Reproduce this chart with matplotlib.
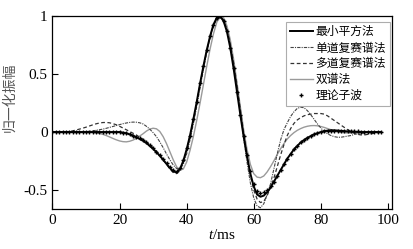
import numpy as np
import matplotlib.pyplot as plt

plt.rcParams['font.family'] = ['Liberation Serif', 'Noto Sans CJK SC']
plt.rcParams['mathtext.fontset'] = 'custom'
plt.rcParams['mathtext.it'] = 'Liberation Serif:italic'
plt.rcParams['mathtext.rm'] = 'Liberation Serif'

# 时间轴 (ms)
t = np.arange(0, 99)

# 理论子波
theory = [0.0] * 21 + [
    -0.005, -0.01, -0.02, -0.03, -0.04, -0.055, -0.07, -0.09, -0.115, -0.14,
    -0.17, -0.2, -0.235, -0.27, -0.305, -0.33, -0.34, -0.31, -0.24, -0.14,
    -0.03, 0.11, 0.26, 0.42, 0.57, 0.71, 0.83, 0.93, 0.99, 1.0,
    0.96, 0.87, 0.73, 0.55, 0.35, 0.15, -0.03, -0.2, -0.34, -0.45,
    -0.51, -0.53, -0.52, -0.5, -0.47, -0.43, -0.38, -0.33, -0.28, -0.23,
    -0.19, -0.15, -0.12, -0.09, -0.07, -0.05, -0.035, -0.02, -0.01, 0.0,
    0.005, 0.01, 0.012, 0.012, 0.01, 0.01, 0.008, 0.006, 0.005, 0.005,
    0.005, 0.004, 0.003, 0.003, 0.002, 0.002, 0.001, 0.0]

# 最小平方法
lsq = [0.0] * 21 + [
    -0.005, -0.01, -0.02, -0.03, -0.045, -0.06, -0.075, -0.095, -0.12, -0.145,
    -0.175, -0.205, -0.24, -0.275, -0.31, -0.34, -0.35, -0.32, -0.25, -0.15,
    -0.03, 0.11, 0.26, 0.42, 0.57, 0.71, 0.83, 0.93, 0.99, 1.0,
    0.96, 0.87, 0.73, 0.55, 0.35, 0.15, -0.04, -0.21, -0.36, -0.47,
    -0.54, -0.56, -0.55, -0.52, -0.48, -0.43, -0.38, -0.33, -0.28, -0.23,
    -0.19, -0.15, -0.12, -0.09, -0.07, -0.05, -0.035, -0.02, -0.01, 0.0,
    0.008, 0.012, 0.015, 0.015, 0.013, 0.01, 0.008, 0.005, 0.003, 0.002,
    0.001, 0.0, 0.0, 0.0, 0.0, 0.0, 0.0, 0.0]

# 单道复赛谱法
single = [0.0] * 10 + [
    0.003, 0.006, 0.01, 0.015, 0.02, 0.025, 0.032, 0.04, 0.048, 0.056,
    0.064, 0.072, 0.078, 0.083, 0.086, 0.085, 0.08, 0.07, 0.05, 0.025,
    -0.005, -0.04, -0.085, -0.135, -0.19, -0.24, -0.285, -0.315, -0.32, -0.28,
    -0.19, -0.07, 0.07, 0.22, 0.38, 0.54, 0.69, 0.82, 0.92, 0.98,
    1.0, 0.97, 0.89, 0.76, 0.59, 0.39, 0.17, -0.05, -0.26, -0.44,
    -0.57, -0.64, -0.655, -0.62, -0.54, -0.45, -0.32, -0.19, -0.07, 0.02,
    0.08, 0.135, 0.175, 0.205, 0.215, 0.21, 0.185, 0.15, 0.11, 0.07,
    0.035, 0.005, -0.015, -0.03, -0.04, -0.045, -0.045, -0.04, -0.035, -0.03,
    -0.02, -0.015, -0.01, -0.008, -0.005, -0.003, 0.0, 0.0, 0.0]

# 多道复赛谱法
multi = [0.0] * 5 + [
    0.005, 0.01, 0.017, 0.025, 0.033, 0.042, 0.052, 0.062, 0.071, 0.078,
    0.082, 0.083, 0.08, 0.073, 0.063, 0.05, 0.035, 0.02, 0.005, -0.01,
    -0.025, -0.045, -0.065, -0.085, -0.11, -0.135, -0.165, -0.2, -0.24, -0.28,
    -0.32, -0.35, -0.36, -0.33, -0.26, -0.16, -0.04, 0.1, 0.25, 0.41,
    0.56, 0.7, 0.82, 0.92, 0.98, 1.0, 0.97, 0.89, 0.76, 0.6,
    0.41, 0.2, -0.01, -0.2, -0.37, -0.5, -0.58, -0.61, -0.6, -0.55,
    -0.48, -0.4, -0.3, -0.2, -0.11, -0.03, 0.03, 0.075, 0.105, 0.125,
    0.14, 0.15, 0.155, 0.16, 0.16, 0.16, 0.155, 0.14, 0.12, 0.1,
    0.08, 0.06, 0.04, 0.02, 0.005, -0.01, -0.02, -0.025, -0.025, -0.02,
    -0.015, -0.01, -0.005, 0.0]

# 双谱法
bispec = [0.0] * 12 + [
    -0.003, -0.006, -0.012, -0.02, -0.03, -0.042, -0.055, -0.067, -0.077, -0.083,
    -0.085, -0.08, -0.07, -0.055, -0.035, -0.015, 0.008, 0.025, 0.033, 0.028,
    0.005, -0.04, -0.1, -0.17, -0.24, -0.3, -0.33, -0.32, -0.26, -0.16,
    -0.04, 0.1, 0.25, 0.41, 0.57, 0.72, 0.85, 0.95, 1.0, 0.99,
    0.92, 0.8, 0.63, 0.43, 0.22, 0.02, -0.15, -0.28, -0.36, -0.39,
    -0.395, -0.38, -0.345, -0.3, -0.25, -0.195, -0.145, -0.1, -0.06, -0.03,
    -0.005, 0.015, 0.03, 0.042, 0.05, 0.055, 0.056, 0.054, 0.048, 0.04,
    0.03, 0.02, 0.01, 0.003, -0.003, -0.006, -0.008, -0.008, -0.007, -0.005,
    -0.004, -0.003, -0.002, -0.001, 0.0, 0.0, 0.0]

fig = plt.figure(figsize=(4.13, 2.49), dpi=100)
ax = fig.add_axes([0.127, 0.161, 0.822, 0.773])

ax.plot(t, lsq, color='black', lw=1.4, label='最小平方法', zorder=4)
ax.plot(t, single, color='#444444', lw=0.8, ls=(0, (3, 1, 1, 1)), label='单道复赛谱法', zorder=3)
ax.plot(t, multi, color='#333333', lw=0.9, ls=(0, (3, 2)), label='多道复赛谱法', zorder=3)
ax.plot(t, bispec, color='#9a9a9a', lw=1.0, label='双谱法', zorder=2)
ax.plot(t, theory, ls='none', marker='+', ms=3.5, mew=1.0, color='black', label='理论子波', zorder=5)

ax.set_xlim(0, 101.2)
ax.set_ylim(-0.665, 1.0)
ax.set_xticks([0, 20, 40, 60, 80, 100])
ax.set_yticks([-0.5, 0, 0.5, 1])
ax.set_yticklabels(['-0.5', '0', '0.5', '1'])
ax.tick_params(direction='in', length=4, width=0.8, labelsize=11, top=False, right=False)
for s in ax.spines.values():
    s.set_linewidth(0.9)

ax.set_xlabel('$t$/ms', fontsize=11, labelpad=1)
ax.set_ylabel('归一化振幅', family=['Noto Sans CJK SC'], fontsize=10, color='#555555')
ax.yaxis.set_label_coords(-0.105, 0.58)

leg = ax.legend(loc='upper right', bbox_to_anchor=(0.993, 0.972), borderaxespad=0,
                prop={'family': ['Noto Sans CJK SC'], 'size': 8.5}, frameon=True, fancybox=False,
                handlelength=2.0, handletextpad=0.2, labelspacing=0.25, borderpad=0.3)
leg.get_frame().set_edgecolor('#999999')
leg.get_frame().set_linewidth(0.8)

fig.savefig('out.png', dpi=100)
